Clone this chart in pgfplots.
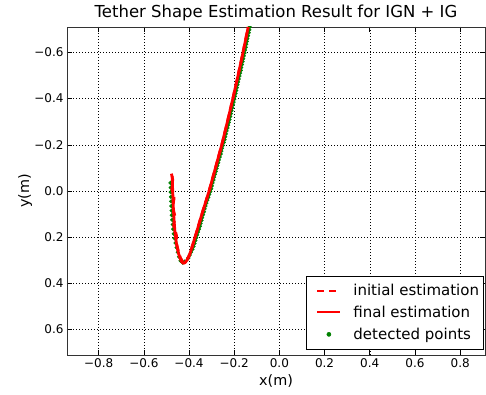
\documentclass[border=0pt]{standalone}
\usepackage{pgfplots}
\pgfplotsset{compat=1.18}
\usepackage{fontspec}
\setmainfont{DejaVu Sans}
\definecolor{mplgreen}{rgb}{0,0.5,0}
\pgfplotsset{
  mylegline/.style={legend image code/.code={\path[draw=none,fill=none] (-9pt,0pt) -- (34pt,0pt);\draw[##1,line width=2pt] (0pt,0pt) -- (23pt,0pt);}},
  mylegdot/.style={legend image code/.code={\path[draw=none,fill=none] (-9pt,0pt) -- (34pt,0pt);\fill[mplgreen] (11.5pt,0pt) circle (2pt);}},
}
\pgfplotstableread{
x y
-0.482 -0.035
-0.481 -0.015
-0.481 0.005
-0.480 0.025
-0.479 0.045
-0.478 0.065
-0.477 0.085
-0.476 0.105
-0.474 0.125
-0.472 0.145
-0.470 0.165
-0.467 0.185
-0.464 0.205
-0.460 0.225
-0.455 0.245
-0.450 0.265
-0.444 0.285
-0.437 0.302
-0.428 0.310
-0.418 0.305
-0.403 0.29
-0.397 0.2775
-0.391 0.265
-0.385 0.2525
-0.380 0.24
-0.376 0.2275
-0.372 0.215
-0.368 0.2025
-0.364 0.19
-0.360 0.1775
-0.356 0.165
-0.352 0.1525
-0.349 0.14
-0.345 0.1275
-0.342 0.115
-0.338 0.1025
-0.334 0.09
-0.331 0.0775
-0.327 0.065
-0.323 0.0525
-0.319 0.04
-0.315 0.0275
-0.311 0.015
-0.306 0.0025
-0.302 -0.01
-0.299 -0.0225
-0.296 -0.035
-0.292 -0.0475
-0.289 -0.06
-0.285 -0.0725
-0.281 -0.085
-0.278 -0.0975
-0.275 -0.11
-0.271 -0.1225
-0.268 -0.135
-0.264 -0.1475
-0.260 -0.16
-0.257 -0.1725
-0.254 -0.185
-0.250 -0.1975
-0.246 -0.21
-0.243 -0.2225
-0.240 -0.235
-0.237 -0.2475
-0.234 -0.26
-0.230 -0.2725
-0.227 -0.285
-0.224 -0.2975
-0.221 -0.31
-0.218 -0.3225
-0.215 -0.335
-0.212 -0.3475
-0.209 -0.36
-0.206 -0.3725
-0.203 -0.385
-0.200 -0.3975
-0.197 -0.41
-0.194 -0.4225
-0.191 -0.435
-0.188 -0.4475
-0.186 -0.46
-0.183 -0.4725
-0.180 -0.485
-0.177 -0.4975
-0.174 -0.51
-0.171 -0.5225
-0.169 -0.535
-0.166 -0.5475
-0.163 -0.56
-0.160 -0.5725
-0.158 -0.585
-0.155 -0.5975
-0.152 -0.61
-0.149 -0.6225
-0.147 -0.635
-0.144 -0.6475
-0.142 -0.66
-0.139 -0.6725
-0.136 -0.685
-0.133 -0.6975
-0.131 -0.71
-0.128 -0.7225
}\detected
\pgfplotstableread{
x y
-0.478 -0.075
-0.470 -0.040
-0.476 -0.010
-0.466 0.030
-0.472 0.070
-0.462 0.110
-0.468 0.150
-0.456 0.190
-0.455 0.230
-0.446 0.265
-0.438 0.290
-0.428 0.305
-0.420 0.308
-0.410 0.300
-0.397 0.275
-0.381 0.225
-0.361 0.160
-0.343 0.100
-0.327 0.050
-0.311 0.000
-0.283 -0.100
-0.255 -0.200
-0.230 -0.300
-0.206 -0.400
-0.183 -0.500
-0.161 -0.600
-0.138 -0.710
}\initial
\pgfplotstableread{
x y
-0.474 -0.065
-0.473 -0.020
-0.471 0.030
-0.469 0.080
-0.466 0.130
-0.462 0.180
-0.456 0.225
-0.448 0.265
-0.440 0.290
-0.432 0.307
-0.425 0.313
-0.417 0.310
-0.408 0.298
-0.397 0.275
-0.389 0.250
-0.381 0.225
-0.361 0.160
-0.343 0.100
-0.327 0.050
-0.311 0.000
-0.283 -0.100
-0.255 -0.200
-0.230 -0.300
-0.206 -0.400
-0.183 -0.500
-0.161 -0.600
-0.138 -0.710
}\final
\begin{document}
\begin{tikzpicture}
\path[use as bounding box] (-67pt,-39pt) rectangle (419pt,355pt);
\begin{axis}[
  at={(0,0)}, anchor=south west,
  scale only axis, width=418pt, height=328pt,
  xmin=-0.94, xmax=0.91, ymin=-0.71, ymax=0.71,
  y dir=reverse,
  clip marker paths=true,
  xtick={-0.8,-0.6,-0.4,-0.2,0,0.2,0.4,0.6,0.8},
  xticklabels={−0.8,−0.6,−0.4,−0.2,0.0,0.2,0.4,0.6,0.8},
  ytick={-0.6,-0.4,-0.2,0,0.2,0.4,0.6},
  yticklabels={−0.6,−0.4,−0.2,0.0,0.2,0.4,0.6},
  grid=major,
  major grid style={black, line width=0.5pt, dash pattern=on 1pt off 2pt},
  tick align=inside, major tick length=5pt,
  tick style={black, line width=0.6pt},
  axis line style={black!80, line width=0.8pt},
  ticklabel style={font=\fontsize{12}{14}\selectfont},
  label style={font=\fontsize{14.4}{16}\selectfont},
  ylabel style={at={(axis description cs:-0.10,0.5)}, anchor=center},
  title style={font=\fontsize{16.5}{18}\selectfont, yshift=-3pt},
  title={Tether Shape Estimation Result for IGN + IG},
  xlabel={x(m)}, ylabel={y(m)},
  legend style={at={(axis description cs:0.996,0.018)}, anchor=south east,
    font=\fontsize{15}{17}\selectfont, draw=black, line width=0.6pt,
    row sep=5pt, inner xsep=2pt, inner ysep=6pt},
  legend cell align=left,
]
\addplot[only marks, mark=*, mark size=1.9pt, mark options={draw=mplgreen, fill=mplgreen}, forget plot] table {\detected};
\addplot[red, line width=2.8pt, line join=round, dash pattern=on 7pt off 5pt, mylegline] table {\initial};
\addlegendentry{initial estimation}
\addplot[red, line width=2.8pt, line join=round, mylegline] table {\final};
\addlegendentry{final estimation}
\addlegendimage{mylegdot}
\addlegendentry{detected points}
\end{axis}
\end{tikzpicture}
\end{document}
